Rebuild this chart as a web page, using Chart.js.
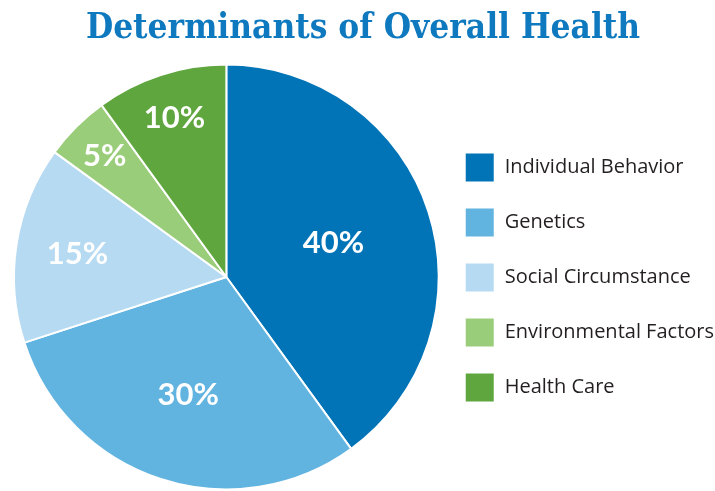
<!DOCTYPE html>
<html lang="en">
  <head>
    <meta charset="utf-8">
    <title>Determinants of Overall Health</title>
    <script src="https://cdn.jsdelivr.net/npm/chart.js@4.4.1/dist/chart.umd.min.js"></script>
    <style>
      html, body { margin: 0; padding: 0; background: #fff; }
      #wrap { width: 715px; height: 491px; }
    </style>
  </head>
  <body>
    <div id="wrap"><canvas id="myChart"></canvas></div>
    <script>
      // values
      const categories = ['Individual Behavior', 'Genetics', 'Social Circumstance', 'Environmental Factors', 'Health Care'];
      const shares = [40, 30, 15, 5, 10];
      const sliceColors = ['#0174B7', '#61B3E0', '#B6DAF2', '#9ACD7A', '#5FA63E'];

      // how far out each percent label sits (fraction of radius)
      const labelRadius = [0.53, 0.58, 0.71, 0.81, 0.79];

      const pctLabels = {
        id: 'pctLabels',
        afterDatasetsDraw(chart) {
          const ctx = chart.ctx;
          const meta = chart.getDatasetMeta(0);
          ctx.save();
          ctx.fillStyle = '#fff';
          ctx.font = 'bold 31px Lato, "Open Sans", sans-serif';
          ctx.textAlign = 'center';
          ctx.textBaseline = 'middle';
          meta.data.forEach((arc, i) => {
            const p = arc.getProps(['x', 'y', 'startAngle', 'endAngle', 'outerRadius']);
            const mid = (p.startAngle + p.endAngle) / 2;
            const r = p.outerRadius * labelRadius[i];
            ctx.fillText(shares[i] + '%', p.x + Math.cos(mid) * r, p.y + Math.sin(mid) * r + 1);
          });
          ctx.restore();
        }
      };

      new Chart(document.getElementById('myChart'), {
        type: 'pie',
        data: {
          labels: categories,
          datasets: [{
            data: shares,
            backgroundColor: sliceColors,
            borderColor: '#fff',
            borderWidth: 2
          }]
        },
        options: {
          responsive: true,
          maintainAspectRatio: false,
          animation: false,
          layout: { padding: { left: 13, right: -9, top: 0, bottom: 0 } },
          plugins: {
            title: {
              display: true,
              // trailing space nudges the centred title a little left
              text: 'Determinants of Overall Health\u00a0',
              color: '#0E79BE',
              font: { family: '"DejaVu Serif Condensed", "DejaVu Serif", serif', size: 34.9, weight: 'bold', lineHeight: 1.2 },
              padding: { top: 8, bottom: 13.1 }
            },
            legend: {
              position: 'right',
              align: 'center',
              title: {
                display: true,
                text: ' ',
                font: { size: 10, lineHeight: 1 },
                padding: { top: 54, bottom: 0 }
              },
              labels: {
                boxWidth: 30,
                boxHeight: 30,
                padding: 25,
                color: '#231F20',
                font: { family: '"Open Sans", sans-serif', size: 20 }
              }
            },
            tooltip: { enabled: false }
          }
        },
        plugins: [pctLabels]
      });
    </script>
  </body>
</html>
